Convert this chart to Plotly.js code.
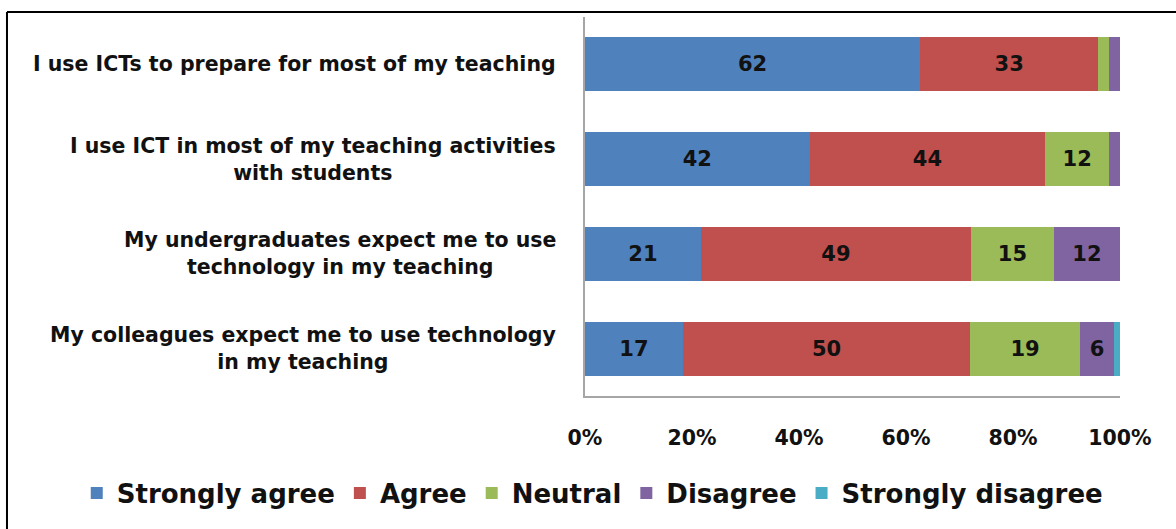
<!DOCTYPE html>
<html>
<head>
<meta charset="utf-8">
<script src="https://cdn.plot.ly/plotly-3.0.1.min.js"></script>
<style>html,body{margin:0;padding:0;background:#fff;}#chart{width:1176px;height:529px;}</style>
</head>
<body>
<div id="chart"></div>
<script>
const categories = [
  "I use ICTs to prepare for most of my teaching",
  "I use ICT in most of my teaching activities<br>with students",
  "My undergraduates expect me to use<br>technology in my teaching",
  "My colleagues expect me to use technology<br>in my teaching"
];
const seriesNames = ["Strongly agree", "Agree", "Neutral", "Disagree", "Strongly disagree"];
const stronglyAgree = [62, 42, 21, 17];
const agree = [33, 44, 49, 50];
const neutral = [2, 12, 15, 19];
const disagree = [2, 2, 12, 6];
const stronglyDisagree = [0, 0, 0, 1];
const xTickVals = [0, 20, 40, 60, 80, 100];
const xTickText = ["0%", "20%", "40%", "60%", "80%", "100%"];

const FONT = "DejaVu Sans";
const colors = ["#4F81BD", "#C0504D", "#9BBB59", "#8064A2", "#4BACC6"];
const allSeries = [stronglyAgree, agree, neutral, disagree, stronglyDisagree];
const ids = categories.map((c, i) => "c" + i);

const traces = allSeries.map((vals, k) => ({
  type: "bar",
  orientation: "h",
  name: seriesNames[k],
  y: ids,
  x: vals,
  text: vals.map(v => v >= 5 ? String(v) : ""),
  textposition: "inside",
  insidetextanchor: "middle",
  textangle: 0,
  texttemplate: "%{text}",
  textfont: {family: FONT, size: 21, color: "#111", weight: "bold"},
  constraintext: "none",
  marker: {color: colors[k], line: {width: 0}},
  hoverinfo: "skip"
}));

const annotations = categories.map((c, i) => ({
  xref: "paper", yref: "y",
  x: 0, y: ids[i],
  xshift: -27,
  xanchor: "right", yanchor: "middle",
  align: "center",
  text: c,
  showarrow: false,
  font: {family: FONT, size: 20.5, color: "#111", weight: "bold"}
}));

const layout = {
  width: 1176, height: 529,
  margin: {l: 585, r: 56, t: 17, b: 133, pad: 0},
  paper_bgcolor: "#fff", plot_bgcolor: "#fff",
  barmode: "stack",
  barnorm: "percent",
  bargap: 0.43,
  showlegend: true,
  legend: {
    orientation: "h",
    x: -0.95, xanchor: "left",
    y: -0.256, yanchor: "middle",
    font: {family: FONT, size: 26, color: "#111", weight: "bold"},
    traceorder: "normal",
    itemwidth: 30,
    tracegroupgap: 0
  },
  xaxis: {
    range: [0, 100],
    tickvals: xTickVals, ticktext: xTickText,
    showgrid: false, zeroline: false,
    showline: true, linecolor: "#a6a6a6", linewidth: 2,
    ticks: "", ticklen: 0,
    ticklabelstandoff: 22,
    tickfont: {family: FONT, size: 20.5, color: "#111", weight: "bold"},
    fixedrange: true,
    automargin: false
  },
  yaxis: {
    type: "category",
    categoryorder: "array", categoryarray: ids,
    autorange: "reversed",
    showticklabels: false,
    showgrid: false, zeroline: false,
    showline: true, linecolor: "#a6a6a6", linewidth: 2,
    ticks: "",
    fixedrange: true,
    automargin: false
  },
  annotations: annotations,
  shapes: [
    {type: "line", xref: "paper", yref: "paper", x0: -1.0804, x1: 1.11, y0: 1.0132, y1: 1.0132, line: {color: "#000", width: 2}},
    {type: "line", xref: "paper", yref: "paper", x0: -1.0804, x1: -1.0804, y0: 1.0132, y1: -0.4, line: {color: "#000", width: 2}}
  ]
};

Plotly.newPlot("chart", traces, layout, {displayModeBar: false, staticPlot: true});
</script>
</body>
</html>
